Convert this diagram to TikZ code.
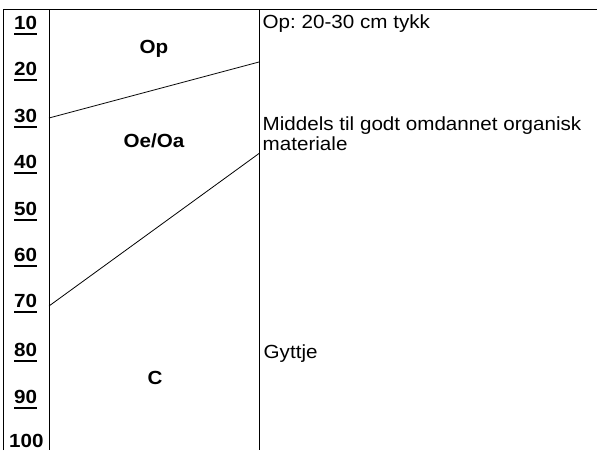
\documentclass[tikz,border=0pt]{standalone}
\usepackage{fontspec}
\setmainfont{Liberation Sans}[FakeStretch=1.085]
\frenchspacing
\newcommand\mkul[1]{\setbox0\hbox{#1}\rlap{\vrule width\wd0 height -3.6pt depth 5.6pt}#1}
\begin{document}
\begin{tikzpicture}[x=1pt,y=-1pt,
  frame/.style={line width=1pt,black},
  bound/.style={line width=0.8pt,black},
  depth/.style={anchor=base west,inner sep=0pt,font=\fontsize{19}{20}\selectfont\bfseries},
  horizon/.style={anchor=base,inner sep=0pt,font=\fontsize{19}{20}\selectfont\bfseries},
  desc/.style={anchor=base west,inner sep=0pt,font=\fontsize{19}{20}\selectfont,align=left}]
\useasboundingbox (0,0) rectangle (597,450);
% frame
\coordinate (tl) at (3.5,9);
\coordinate (tr) at (597,9);
\coordinate (bl) at (3.5,450);
\coordinate (m1t) at (49,9);
\coordinate (m1b) at (49,450);
\coordinate (m2t) at (259,9);
\coordinate (m2b) at (259,450);
\draw[frame] (bl) -- (tl) -- (tr);
\draw[frame] (m1t) -- (m1b);
\draw[frame] (m2t) -- (m2b);
% horizon boundaries
\coordinate (b1l) at (49,118);
\coordinate (b1r) at (259,62);
\coordinate (b2l) at (49,306);
\coordinate (b2r) at (259,153.5);
\draw[bound] (b1l) -- (b1r);
\draw[bound] (b2l) -- (b2r);
% depth labels
\node[depth] (d10) at (14,29) {\mkul{10}};
\node[depth] (d20) at (14,75.5) {\mkul{20}};
\node[depth] (d30) at (14,122) {\mkul{30}};
\node[depth] (d40) at (14,168) {\mkul{40}};
\node[depth] (d50) at (14,215) {\mkul{50}};
\node[depth] (d60) at (14,261.5) {\mkul{60}};
\node[depth] (d70) at (14,307.5) {\mkul{70}};
\node[depth] (d80) at (14,356) {\mkul{80}};
\node[depth] (d90) at (14,403) {\mkul{90}};
\node[depth] (d100) at (9,447.5) {100};
% horizon names
\node[horizon] (hop) at (154,53) {Op};
\node[horizon] (hoe) at (154,147) {Oe/Oa};
\node[horizon] (hc) at (155,384) {C};
% descriptions
\node[desc] (t1) at (262.5,28.5) {Op: 20-30 cm tykk};
\node[desc] (t2) at (262.5,150.5) {Middels til godt omdannet organisk\\materiale};
\node[desc] (t3) at (263.5,358) {Gyttje};
\end{tikzpicture}
\end{document}
